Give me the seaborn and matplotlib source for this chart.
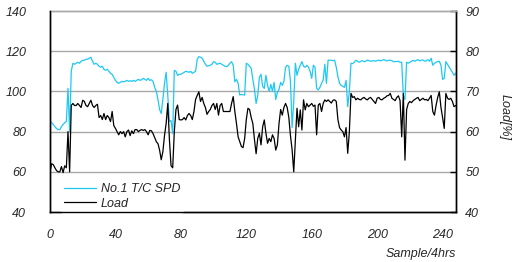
import numpy as np
import pandas as pd
import seaborn as sns
import matplotlib.pyplot as plt

# turbocharger speed (left axis) and engine load in % (right axis), one value per sample
spd = [85, 84.5, 83.5, 82.5, 81.5, 81, 81, 82.5, 83.5, 84.5,
       85, 101.5, 80, 110, 114, 113.5, 114, 114.5, 114, 115,
       115.5, 115.5, 116, 116, 116.5, 117, 115, 113.5, 114, 113.5,
       112.5, 112, 112.5, 111, 110.5, 111, 110, 109, 108.5, 107,
       105.5, 104.5, 104, 104.5, 105, 104.8, 105, 105.5, 105, 105.3,
       105, 105.5, 105, 105.5, 106, 105.5, 105.8, 106.5, 106, 105.5,
       106.5, 105.5, 105.8, 105, 102, 100, 96, 91, 89, 96,
       104, 109.5, 98, 85, 85.5, 79, 110.5, 110, 108, 108.5,
       108.5, 109, 109.5, 110, 109.8, 109.5, 110, 109, 109.5, 110,
       116, 117.3, 117, 116.5, 115, 113.5, 112.5, 112.8, 113, 113.5,
       114.8, 114.5, 113.5, 113.8, 114, 113.5, 113, 112.5, 112.3, 113,
       114, 114.8, 113, 104.8, 106, 104, 98.2, 98.5, 98.3, 98.2,
       114, 113.5, 112.5, 111.5, 106, 101, 94, 98, 107, 108.5,
       102.5, 101.5, 108, 103, 100, 103.5, 100, 104.5, 96, 99.5,
       101, 104.5, 103, 105, 112, 113, 112.5, 105, 82, 95,
       114, 108, 111, 113, 114.8, 112.5, 112, 113, 112, 110,
       106.5, 113, 112, 101.5, 100.7, 102, 104, 105.7, 113.5, 104,
       115.5, 115.5, 115.5, 115.3, 115.5, 112, 107.3, 104, 103, 102.5,
       102, 105.5, 92.4, 100, 114, 113.8, 114.5, 115.5, 115, 114.5,
       115, 115.3, 114.8, 115, 115.6, 115.3, 115, 115.2, 115.3, 115,
       115.3, 115.6, 115.2, 115.5, 115.8, 115.5, 115.2, 115.5, 115.5, 115.3,
       114.8, 114.8, 114.9, 115, 114.5, 114.5, 98, 96, 114.5, 114,
       114.5, 115, 115.5, 115, 115.5, 115.8, 115.2, 115.5, 115.6, 115,
       115.2, 115.8, 115, 116.5, 113, 114, 114.5, 114.8, 115, 113,
       106, 106.5, 114.8, 113.5, 112.3, 111, 109.5, 108, 109]

load = [50, 52, 51.8, 51, 50.3, 50, 50, 51.3, 49.8, 51.5,
        51, 60, 50, 66.5, 67, 66.5, 66.5, 67, 66.5, 66,
        67.8, 67.5, 66.5, 66.2, 67, 67.8, 66.5, 66, 66.5, 66.8,
        63.5, 64, 63, 64.5, 63, 64, 63.5, 62.5, 65, 61.5,
        60.8, 60, 59.2, 60, 59.5, 60, 58.7, 60, 60.4, 59,
        60.2, 59.5, 60.5, 60.5, 60, 60.3, 60.5, 60.3, 60.5, 60,
        59.2, 60.3, 60.2, 59.5, 58.5, 57.5, 57, 55.4, 53, 55,
        59, 62, 67, 58, 51.5, 51, 60, 65.5, 66.6, 63,
        62.9, 63, 63.5, 62.9, 64, 64.5, 64, 63, 65, 68,
        69, 69.9, 67.5, 68.5, 67, 66, 64.3, 65, 65.5, 66.5,
        67, 65.5, 67, 64.1, 66.5, 67, 65, 65, 65, 65,
        65, 67, 68.7, 65, 62, 58.7, 57.5, 56.3, 56, 58.3,
        63, 65.8, 65.5, 63.5, 62, 58, 54.5, 58.3, 59.6, 56.7,
        61.2, 62.9, 59.6, 57.1, 58.3, 57.5, 59.2, 58.3, 55.4, 56.7,
        62, 65.5, 64.1, 66, 67, 66, 63.5, 59, 55.5, 50,
        57.9, 65.8, 61.2, 65.4, 60.4, 67.9, 65.4, 67, 66.2, 66.6,
        67, 66.3, 66.6, 59.2, 66.6, 67, 65, 67, 67.9, 67.5,
        67.9, 67.5, 67.1, 67.8, 67.9, 67.5, 63, 61, 60.4, 60,
        58.7, 61, 54.6, 60, 69.5, 68.5, 68.7, 67.9, 68.3, 68,
        67.9, 68.3, 68.5, 68.1, 67.9, 68.3, 68.5, 68, 67.5, 67,
        68.3, 68.5, 68, 67.9, 68.3, 68.5, 68.9, 69, 69.5, 68.3,
        68, 67.7, 68.5, 68.9, 67.7, 58.7, 69.5, 52.9, 65.5, 67,
        67.5, 67.2, 67.7, 68, 68.3, 68.5, 67.7, 68, 68.3, 67.9,
        68, 67.7, 68.3, 69, 65, 64.1, 66.5, 68.5, 69.9, 66,
        63.5, 60.8, 69.5, 68.3, 68, 68.3, 67.5, 66.2, 66.5]

sample = np.arange(len(spd))
df = pd.DataFrame({"Sample": sample, "SPD": spd, "Load": load})

sns.set_style("white")
plt.rcParams['font.family'] = ['Liberation Sans', 'DejaVu Sans']
plt.rcParams['font.style'] = 'italic'

fig = plt.figure(figsize=(5.17, 2.62), dpi=100)
ax = fig.add_axes([0.0967, 0.1908, 0.7847, 0.7672])
ax2 = ax.twinx()

grid_c = '#a8a8a8'
for v in [60, 80, 100, 120]:
    ax.axhline(v, color=grid_c, lw=1, zorder=0)

sns.lineplot(data=df, x="Sample", y="SPD", ax=ax, color='#1ec8f5', lw=0.9,
             label="No.1 T/C SPD", legend=False)
sns.lineplot(data=df, x="Sample", y="Load", ax=ax2, color='black', lw=0.9,
             label="Load", legend=False)

ax.set_xlim(0, 248)
ax.set_ylim(40, 140)
ax2.set_ylim(40, 90)

ax.set_xticks(range(0, 250, 20))
ax.set_xticklabels([str(t) if t % 40 == 0 else '' for t in range(0, 250, 20)])
ax.set_yticks(range(40, 141, 20))
ax2.set_yticks(range(40, 91, 10))

ax.tick_params(axis='x', direction='in', length=4, width=1, pad=12,
               labelsize=9, color='black')
ax.tick_params(axis='y', length=0, pad=17, labelsize=9)
ax2.tick_params(axis='y', direction='in', length=4, width=1, pad=7,
                labelsize=9, color='black')

for a in (ax, ax2):
    for s in ['left', 'right', 'bottom']:
        a.spines[s].set_color('black')
        a.spines[s].set_linewidth(1)
    a.spines['top'].set_color(grid_c)
    a.spines['top'].set_linewidth(1)
# keep the bottom spine above the legend box
ax2.spines['bottom'].set_zorder(10)
ax2.spines['left'].set_zorder(10)

ax.set_xlabel("Sample/4hrs", fontsize=9, ha='right', x=1.0, labelpad=5)
ax.set_ylabel("")
ax2.set_ylabel("Load[%]", fontsize=9, rotation=270, va='bottom')
ax2.yaxis.set_label_coords(1.105, 0.47)

h1, l1 = ax.get_legend_handles_labels()
h2, l2 = ax2.get_legend_handles_labels()
leg = ax2.legend(h1 + h2, l1 + l2, loc='lower left', bbox_to_anchor=(0.02, -0.02),
                 fontsize=9, frameon=True, facecolor='white', edgecolor='none',
                 framealpha=1, handlelength=2.5, handletextpad=0.4,
                 labelspacing=0.2, borderpad=0.3, borderaxespad=0.2)

fig.savefig("out.png", dpi=100)
